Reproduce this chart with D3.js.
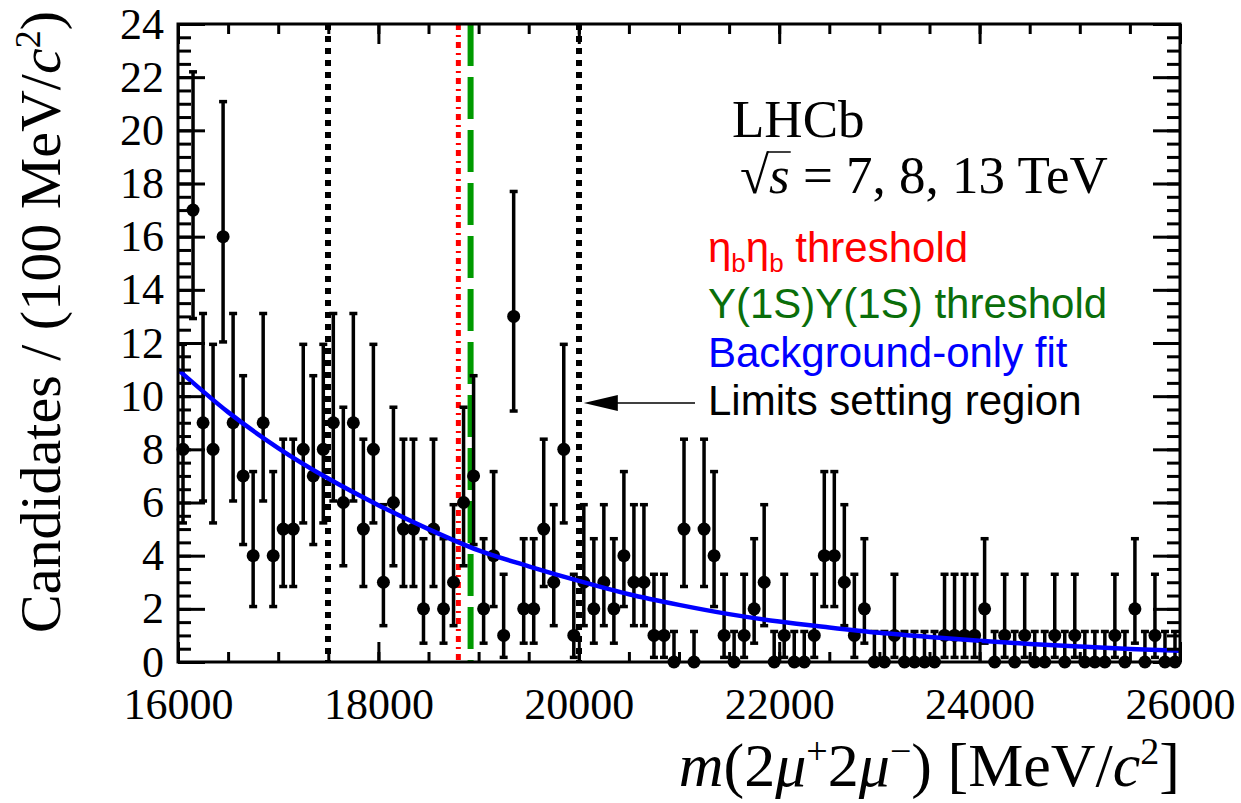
<!DOCTYPE html>
<html>
<head>
<meta charset="utf-8">
<script src="https://cdn.jsdelivr.net/npm/d3@7"></script>
<style>
  html, body { margin: 0; padding: 0; background: #ffffff; }
  svg { display: block; }
</style>
</head>
<body>
<svg id="chart" width="1241" height="803"></svg>
<script>
// ---- Data ---------------------------------------------------------------
// Candidates per 100 MeV/c^2 bin, starting at 16000 MeV/c^2
const binStart = 16000;
const binWidth = 100;
const counts = [
  8, 17, 9, 8, 16, 9, 7, 4, 9, 4,
  5, 5, 8, 7, 8, 9, 6, 9, 5, 8,
  3, 6, 5, 5, 2, 5, 2, 3, 6, 7,
  2, 4, 1, 13, 2, 2, 5, 3, 8, 1,
  3, 2, 3, 2, 4, 3, 3, 1, 1, 0,
  5, 0, 5, 4, 1, 0, 1, 2, 3, 0,
  1, 0, 0, 1, 4, 4, 3, 1, 2, 0,
  0, 1, 0, 0, 0, 0, 1, 1, 1, 1,
  2, 0, 1, 0, 1, 0, 0, 1, 0, 1,
  0, 0, 0, 1, 0, 2, 0, 1, 0, 0
];

// 68.27% Poisson intervals, indexed by observed count
const poissonLow  = [0, 0.173, 0.708, 1.367, 2.086, 2.840, 3.620, 4.419, 5.232, 6.057,
                     6.891, 7.734, 8.585, 9.441, 10.30, 11.17, 12.04, 12.92];
const poissonHigh = [1.148, 3.300, 4.638, 5.918, 7.163, 8.382, 9.584, 10.77, 11.95, 13.11,
                     14.27, 15.42, 16.56, 17.70, 18.83, 19.96, 21.08, 22.20];

// Background-only fit, sampled every 500 MeV/c^2
const fitMass  = [16000, 16500, 17000, 17500, 18000, 18500, 19000, 19500, 20000, 20500,
                  21000, 21500, 22000, 22500, 23000, 23500, 24000, 24500, 25000, 25500, 26000];
const fitValue = [11.0, 9.4, 8.05, 6.9, 5.9, 5.0, 4.2, 3.6, 3.05, 2.55,
                  2.15, 1.8, 1.52, 1.3, 1.1, 0.94, 0.8, 0.68, 0.58, 0.49, 0.42];

// Reference masses (MeV/c^2)
const etabEtabThreshold = 18798;
const upsUpsThreshold = 18920;
const limitsRegion = [17500, 20000];

// Axis ticks
const xTickValues = [16000, 18000, 20000, 22000, 24000, 26000];
const xMinorValues = d3.range(16000, 26001, 500);
const yTickValues = d3.range(0, 25, 2);
const yMinorValues = d3.range(0, 24.01, 0.5);

// ---- Layout -------------------------------------------------------------
const svg = d3.select("#chart");
const plotLeft = 178, plotRight = 1180, plotTop = 24, plotBottom = 662;

const x = d3.scaleLinear().domain([16000, 26000]).range([plotLeft, plotRight]);
const y = d3.scaleLinear().domain([0, 24]).range([plotBottom, plotTop]);

const serif = "'Liberation Serif', 'Times New Roman', serif";
const sans = "'Liberation Sans', Arial, sans-serif";

svg.append("defs").append("clipPath").attr("id", "plot-clip")
  .append("rect").attr("x", plotLeft).attr("y", plotTop)
  .attr("width", plotRight - plotLeft).attr("height", plotBottom - plotTop);

// ---- Vertical reference lines -------------------------------------------
const refLines = svg.append("g");
limitsRegion.forEach(m => {
  refLines.append("line")
    .attr("x1", Math.round(x(m))).attr("x2", Math.round(x(m)))
    .attr("y1", plotTop).attr("y2", plotBottom)
    .attr("stroke", "#000").attr("stroke-width", 6)
    .attr("stroke-dasharray", "6,6");
});
refLines.append("line")
  .attr("x1", x(etabEtabThreshold)).attr("x2", x(etabEtabThreshold))
  .attr("y1", plotTop).attr("y2", plotBottom)
  .attr("stroke", "#ff0000").attr("stroke-width", 5)
  .attr("stroke-dasharray", "6,5,2,5");
refLines.append("line")
  .attr("x1", x(upsUpsThreshold)).attr("x2", x(upsUpsThreshold))
  .attr("y1", plotTop).attr("y2", plotBottom)
  .attr("stroke", "#009a00").attr("stroke-width", 6)
  .attr("stroke-dasharray", "42,11");

// ---- Data points with Poisson error bars --------------------------------
const bins = counts.map((n, i) => ({
  mass: binStart + (i + 0.5) * binWidth,
  n: n,
  lo: poissonLow[n],
  hi: poissonHigh[n]
}));

const pts = svg.append("g");
const capHalf = 4;
const barWidth = 3.5;
bins.forEach(b => {
  const cx = x(b.mass);
  pts.append("line")
    .attr("x1", cx).attr("x2", cx)
    .attr("y1", y(b.lo)).attr("y2", y(b.hi))
    .attr("stroke", "#000").attr("stroke-width", barWidth);
  pts.append("line")
    .attr("x1", cx - capHalf).attr("x2", cx + capHalf)
    .attr("y1", y(b.hi)).attr("y2", y(b.hi))
    .attr("stroke", "#000").attr("stroke-width", barWidth);
  if (b.n > 0) {
    pts.append("line")
      .attr("x1", cx - capHalf).attr("x2", cx + capHalf)
      .attr("y1", y(b.lo)).attr("y2", y(b.lo))
      .attr("stroke", "#000").attr("stroke-width", barWidth);
  }
});
pts.selectAll("circle").data(bins).join("circle")
  .attr("cx", d => x(d.mass))
  .attr("cy", d => y(d.n))
  .attr("r", 6.5)
  .attr("fill", "#000");

// ---- Background-only fit ------------------------------------------------
const fitLine = d3.line()
  .x((d, i) => x(fitMass[i]))
  .y(d => y(d))
  .curve(d3.curveMonotoneX);
svg.append("path")
  .attr("d", fitLine(fitValue))
  .attr("clip-path", "url(#plot-clip)")
  .attr("fill", "none")
  .attr("stroke", "#0000ff")
  .attr("stroke-width", 4.5);

// ---- Axes (ticks pointing inward on all four sides) ----------------------
function styleAxis(g) {
  g.select(".domain").remove();
  g.selectAll(".tick line").attr("stroke", "#000").attr("stroke-width", 3);
  g.selectAll("text").attr("fill", "#000")
    .style("font-family", serif).style("font-size", "44px");
}

svg.append("g").attr("transform", `translate(0,${plotBottom})`)
  .call(d3.axisBottom(x).tickValues(xMinorValues).tickSize(-10).tickFormat(""))
  .call(styleAxis);
svg.append("g").attr("transform", `translate(0,${plotBottom})`)
  .call(d3.axisBottom(x).tickValues(xTickValues).tickSize(-20).tickPadding(26)
    .tickFormat(d3.format("d")))
  .call(styleAxis);
svg.append("g").attr("transform", `translate(0,${plotTop})`)
  .call(d3.axisTop(x).tickValues(xMinorValues).tickSize(-10).tickFormat(""))
  .call(styleAxis);
svg.append("g").attr("transform", `translate(0,${plotTop})`)
  .call(d3.axisTop(x).tickValues(xTickValues).tickSize(-20).tickFormat(""))
  .call(styleAxis);

svg.append("g").attr("transform", `translate(${plotLeft},0)`)
  .call(d3.axisLeft(y).tickValues(yMinorValues).tickSize(-13).tickFormat(""))
  .call(styleAxis);
svg.append("g").attr("transform", `translate(${plotLeft},0)`)
  .call(d3.axisLeft(y).tickValues(yTickValues).tickSize(-27).tickPadding(14)
    .tickFormat(d3.format("d")))
  .call(styleAxis);
svg.append("g").attr("transform", `translate(${plotRight},0)`)
  .call(d3.axisRight(y).tickValues(yMinorValues).tickSize(-13).tickFormat(""))
  .call(styleAxis);
svg.append("g").attr("transform", `translate(${plotRight},0)`)
  .call(d3.axisRight(y).tickValues(yTickValues).tickSize(-27).tickFormat(""))
  .call(styleAxis);

// Frame
svg.append("rect")
  .attr("x", plotLeft).attr("y", plotTop)
  .attr("width", plotRight - plotLeft).attr("height", plotBottom - plotTop)
  .attr("fill", "none").attr("stroke", "#000").attr("stroke-width", 3);

// ---- Axis titles --------------------------------------------------------
const xTitle = svg.append("text")
  .attr("x", plotRight).attr("y", 786)
  .attr("text-anchor", "end")
  .style("font-family", serif).style("font-size", "62px").attr("fill", "#000");
xTitle.append("tspan").style("font-style", "italic").text("m");
xTitle.append("tspan").text("(2");
xTitle.append("tspan").style("font-style", "italic").text("μ");
xTitle.append("tspan").attr("dy", -22).style("font-size", "38px").text("+");
xTitle.append("tspan").attr("dy", 22).text("2");
xTitle.append("tspan").style("font-style", "italic").text("μ");
xTitle.append("tspan").attr("dy", -22).style("font-size", "38px").text("−");
xTitle.append("tspan").attr("dy", 22).text(") [MeV/");
xTitle.append("tspan").style("font-style", "italic").text("c");
xTitle.append("tspan").attr("dy", -22).style("font-size", "38px").text("2");
xTitle.append("tspan").attr("dy", 22).text("]");

const yTitle = svg.append("text")
  .attr("transform", "translate(60,322) rotate(-90)")
  .attr("text-anchor", "middle")
  .style("font-family", serif).style("font-size", "58px").attr("fill", "#000");
yTitle.append("tspan").text("Candidates / (100 MeV/");
yTitle.append("tspan").style("font-style", "italic").text("c");
yTitle.append("tspan").attr("dy", -20).style("font-size", "36px").text("2");
yTitle.append("tspan").attr("dy", 20).text(")");

// ---- Experiment label ---------------------------------------------------
svg.append("text")
  .attr("x", 732).attr("y", 137)
  .style("font-family", serif).style("font-size", "53px").attr("fill", "#000")
  .text("LHCb");

const energy = svg.append("text")
  .attr("x", 740).attr("y", 193)
  .style("font-family", serif).style("font-size", "53px").attr("fill", "#000");
energy.append("tspan").text("√");
energy.append("tspan").style("font-style", "italic").text("s");
energy.append("tspan").text(" = 7, 8, 13 TeV");
// overbar of the square root
{
  const ext = energy.node().getExtentOfChar(1);
  svg.append("line")
    .attr("x1", ext.x - 2).attr("x2", ext.x + ext.width + 1)
    .attr("y1", ext.y + 6).attr("y2", ext.y + 6)
    .attr("stroke", "#000").attr("stroke-width", 1.5);
}

// ---- Legend texts ---------------------------------------------------------
const legendX = 708;
const l1 = svg.append("text").attr("x", legendX).attr("y", 262)
  .style("font-family", sans).style("font-size", "42px").attr("fill", "#ff0000");
l1.append("tspan").text("η");
l1.append("tspan").attr("dy", 10).style("font-size", "26px").text("b");
l1.append("tspan").attr("dy", -10).text("η");
l1.append("tspan").attr("dy", 10).style("font-size", "26px").text("b");
l1.append("tspan").attr("dy", -10).text(" threshold");

svg.append("text").attr("x", legendX).attr("y", 318)
  .style("font-family", sans).style("font-size", "42px").attr("fill", "#0a6e0a")
  .text("Υ(1S)Υ(1S) threshold");

svg.append("text").attr("x", legendX).attr("y", 367)
  .style("font-family", sans).style("font-size", "42px").attr("fill", "#0000ff")
  .text("Background-only fit");

svg.append("text").attr("x", legendX).attr("y", 415)
  .style("font-family", sans).style("font-size", "42px").attr("fill", "#000")
  .text("Limits setting region");

// Arrow pointing at the upper edge of the limits region
const arrowY = 403;
const tipX = x(limitsRegion[1]) + 5;
svg.append("line")
  .attr("x1", 695).attr("x2", tipX + 30)
  .attr("y1", arrowY).attr("y2", arrowY)
  .attr("stroke", "#000").attr("stroke-width", 1.5);
svg.append("path")
  .attr("d", `M${tipX},${arrowY} L${tipX + 34},${arrowY - 8} L${tipX + 34},${arrowY + 8} Z`)
  .attr("fill", "#000");
</script>
</body>
</html>
